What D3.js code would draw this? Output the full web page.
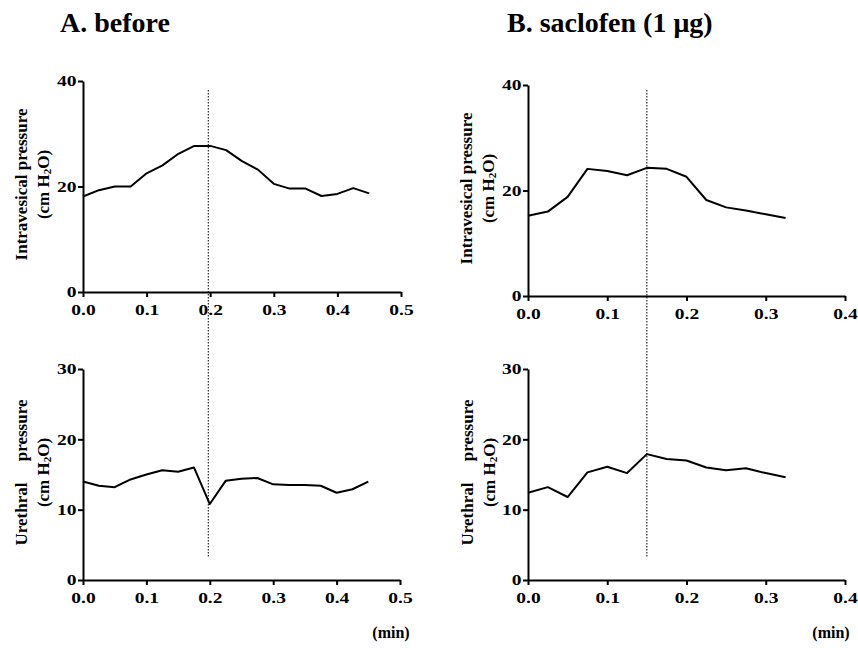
<!DOCTYPE html>
<html>
<head>
<meta charset="utf-8">
<script src="https://cdn.jsdelivr.net/npm/d3@7"></script>
<style>
  body { margin: 0; background: #fff; }
  svg { display: block; font-family: "Liberation Serif", "Times New Roman", serif; }
</style>
</head>
<body>
<svg id="chart" width="858" height="648"></svg>
<script>
// ---- data ----
const timeA = [0, 0.025, 0.05, 0.075, 0.1, 0.125, 0.15, 0.175, 0.2, 0.225, 0.25, 0.275, 0.3, 0.325, 0.35, 0.375, 0.4, 0.425, 0.45];
const intravesicalA = [18.1, 19.3, 20.0, 20.0, 22.5, 24.0, 26.2, 27.7, 27.7, 26.9, 24.8, 23.2, 20.5, 19.6, 19.6, 18.2, 18.6, 19.7, 18.7];
const urethralA = [14.0, 13.4, 13.2, 14.3, 15.0, 15.6, 15.4, 16.0, 10.8, 14.1, 14.4, 14.5, 13.6, 13.5, 13.5, 13.4, 12.4, 12.9, 14.0];

const timeB = [0, 0.025, 0.05, 0.075, 0.1, 0.125, 0.15, 0.175, 0.2, 0.225, 0.25, 0.275, 0.3, 0.325];
const intravesicalB = [15.2, 16.0, 18.8, 24.1, 23.7, 22.9, 24.3, 24.1, 22.6, 18.2, 16.8, 16.2, 15.5, 14.8];
const urethralB = [12.4, 13.2, 11.8, 15.3, 16.1, 15.2, 17.9, 17.2, 17.0, 16.0, 15.6, 15.9, 15.2, 14.6];

const markerA = 0.197;
const markerB = 0.15;

const ticksXA = [0, 0.1, 0.2, 0.3, 0.4, 0.5];
const ticksXB = [0, 0.1, 0.2, 0.3, 0.4];
const ticksIntra = [0, 20, 40];
const ticksUre = [0, 10, 20, 30];

const titleA = "A. before";
const titleB = "B. saclofen (1 \u03bcg)";
const unitLabel = "(min)";

// ---- drawing ----
const svg = d3.select("#chart");
const serif = "'Liberation Serif', 'Times New Roman', serif";

function panel(cfg) {
  const x = d3.scaleLinear().domain(cfg.xDomain).range([cfg.x0, cfg.x1]);
  const y = d3.scaleLinear().domain(cfg.yDomain).range([cfg.y0, cfg.y1]);
  const g = svg.append("g");

  const xa = g.append("g").attr("transform", `translate(0,${cfg.y0})`)
    .call(d3.axisBottom(x).tickValues(cfg.xTicks).tickFormat(d3.format(".1f")).tickSize(5).tickSizeOuter(0).tickPadding(7));
  const ya = g.append("g").attr("transform", `translate(${cfg.x0},0)`)
    .call(d3.axisLeft(y).tickValues(cfg.yTicks).tickFormat(d3.format("d")).tickSize(5).tickSizeOuter(0).tickPadding(0));
  [xa, ya].forEach(a => {
    a.attr("font-family", serif);
    a.selectAll("path").attr("stroke", "#000").attr("stroke-width", 2);
    a.selectAll("line").attr("stroke", "#000").attr("stroke-width", 2);
    a.selectAll("text").attr("fill", "#000").attr("font-size", 15).attr("font-weight", "bold")
      .style("font-family", serif).attr("transform", "scale(1.3,1)");
  });

  const line = d3.line().x((d, i) => x(cfg.t[i])).y(d => y(d));
  g.append("path").datum(cfg.v).attr("d", line)
    .attr("fill", "none").attr("stroke", "#000").attr("stroke-width", 2).attr("stroke-linejoin", "round");

  // rotated y label
  const cy = (cfg.y0 + cfg.y1) / 2 - 2;
  const lab = g.append("g").attr("transform", `translate(${cfg.labX},${cy}) rotate(-90)`);
  lab.append("text").attr("text-anchor", "middle").attr("y", 0)
    .attr("font-size", 17).attr("font-weight", "bold").style("white-space", "pre")
    .text(cfg.label1);
  const t2 = lab.append("text").attr("text-anchor", "middle").attr("y", 22)
    .attr("font-size", 17).attr("font-weight", "bold");
  t2.append("tspan").text("(cm H");
  t2.append("tspan").attr("font-size", 11).attr("dy", 2).text("2");
  t2.append("tspan").attr("dy", -2).text("O)");
  return { x, y };
}

const pAT = panel({ xDomain: [0, 0.5], yDomain: [0, 40], x0: 83, x1: 401, y0: 292, y1: 81,
  xTicks: ticksXA, yTicks: ticksIntra, t: timeA, v: intravesicalA, labX: 27, label1: "Intravesical pressure" });
const pAB = panel({ xDomain: [0, 0.5], yDomain: [0, 30], x0: 83, x1: 400, y0: 580, y1: 369,
  xTicks: ticksXA, yTicks: ticksUre, t: timeA, v: urethralA, labX: 27, label1: "Urethral     pressure" });
const pBT = panel({ xDomain: [0, 0.4], yDomain: [0, 40], x0: 528, x1: 845, y0: 296, y1: 85,
  xTicks: ticksXB, yTicks: ticksIntra, t: timeB, v: intravesicalB, labX: 472, label1: "Intravesical pressure" });
const pBB = panel({ xDomain: [0, 0.4], yDomain: [0, 30], x0: 528, x1: 845, y0: 580, y1: 369,
  xTicks: ticksXB, yTicks: ticksUre, t: timeB, v: urethralB, labX: 473, label1: "Urethral     pressure" });

// dotted marker lines spanning both panels
[[pAT, markerA], [pBT, markerB]].forEach(([p, m]) => {
  svg.append("line").attr("x1", p.x(m)).attr("x2", p.x(m)).attr("y1", 90).attr("y2", 557)
    .attr("stroke", "#000").attr("stroke-width", 1).attr("stroke-dasharray", "1.5,1.5");
});

// titles
svg.append("text").attr("x", 60).attr("y", 32).attr("font-size", 28).attr("font-weight", "bold").text(titleA);
svg.append("text").attr("x", 507).attr("y", 32).attr("font-size", 28).attr("font-weight", "bold").text(titleB);

// unit labels
svg.append("text").attr("x", 391).attr("y", 638).attr("text-anchor", "middle").attr("font-size", 16).attr("font-weight", "bold").text(unitLabel);
svg.append("text").attr("x", 831).attr("y", 638).attr("text-anchor", "middle").attr("font-size", 16).attr("font-weight", "bold").text(unitLabel);
</script>
</body>
</html>
